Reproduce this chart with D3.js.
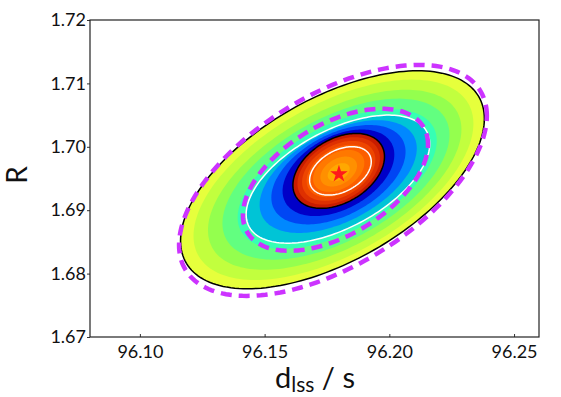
<!DOCTYPE html>
<html>
<head>
<meta charset="utf-8">
<script src="https://cdn.jsdelivr.net/npm/d3@7"></script>
<style>
  body { margin: 0; background: #fff; }
  svg { display: block; font-family: Lato, "Open Sans", sans-serif; }
</style>
</head>
<body>
<div class="chart"></div>
<script>
// chart data
// ==========================================================================
var xTicks = [96.10, 96.15, 96.20, 96.25];
var yTicks = [1.67, 1.68, 1.69, 1.70, 1.71, 1.72];

// filled contour bands, outer -> inner
// each band is an ellipse: centre, half width, half height, correlation
var bandCx  = [96.1772, 96.1776, 96.1781, 96.1786, 96.1791, 96.1794, 96.1795, 96.1796, 96.1796, 96.1797, 96.1797, 96.1797, 96.1797, 96.1797, 96.1797, 96.1797];
var bandCy  = [1.6948, 1.6948, 1.6948, 1.6949, 1.6949, 1.6949, 1.6953, 1.6956, 1.6959, 1.6962, 1.6962, 1.6962, 1.6962, 1.6962, 1.6961, 1.6960];
var bandDx  = [0.0609, 0.0561, 0.0508, 0.0455, 0.0399, 0.0368, 0.0315, 0.0269, 0.0224, 0.01836, 0.01652, 0.01469, 0.01285, 0.01028, 0.00734, 0.00441];
var bandDy  = [0.01719, 0.0158, 0.0142, 0.0127, 0.0110, 0.0101, 0.00889, 0.00784, 0.00683, 0.00591, 0.00532, 0.00473, 0.00414, 0.00331, 0.00236, 0.00142];
var bandRho = [0.56, 0.56, 0.56, 0.55, 0.55, 0.55, 0.50, 0.46, 0.42, 0.38, 0.38, 0.38, 0.38, 0.38, 0.38, 0.38];
var bandColors = ["#e6ff3c", "#c2ff3e", "#94ff4e", "#62ff80", "#36ffb4", "#00c4d6", "#0088ff", "#0046f4", "#0000c8",
                  "#c81c00", "#de3000", "#ee4600", "#fc5e00", "#ff7800", "#ff9000", "#ffa800"];

// contour lines: outer black, white, inner black, inner white
var lineCx  = [96.1772, 96.1794, 96.1797, 96.1804];
var lineCy  = [1.6948, 1.6949, 1.6962, 1.6962];
var lineDx  = [0.0609, 0.0368, 0.01836, 0.01235];
var lineDy  = [0.01719, 0.0101, 0.00591, 0.00382];
var lineRho = [0.56, 0.55, 0.38, 0.38];
var lineColors = ["#000", "#fff", "#000", "#fff"];

// magenta dashed ellipses
var dashCx  = [96.1774, 96.1784];
var dashCy  = [1.6947, 1.6948];
var dashDx  = [0.0617, 0.0371];
var dashDy  = [0.01822, 0.0112];
var dashRho = [0.56, 0.50];

// best fit point
var bestX = 96.1798;
var bestY = 1.6957;

// set up chart configurations
// ==========================================================================
var svgWidth = 561;
var svgHeight = 397;

var margin = { top: 20, right: 22, bottom: 60, left: 90 };
var width = 449;
var height = 317;

var svg = d3.select(".chart")
  .append("svg")
  .attr("width", svgWidth)
  .attr("height", svgHeight);

var chartGroup = svg.append("g")
  .attr("transform", `translate(${margin.left}, ${margin.top})`);

var xScale = d3.scaleLinear().domain([96.08, 96.26]).range([0, width]);
var yScale = d3.scaleLinear().domain([1.67, 1.72]).range([height, 0]);

// ellipse outline in data units, run through the scales
function ellipsePath(cx, cy, dx, dy, rho) {
  var pts = d3.range(0, 180).map(function(i) {
    var t = i / 180 * 2 * Math.PI;
    var x = cx + dx * Math.cos(t);
    var y = cy + dy * (rho * Math.cos(t) + Math.sqrt(1 - rho * rho) * Math.sin(t));
    return [xScale(x), yScale(y)];
  });
  return d3.line().curve(d3.curveLinearClosed)(pts);
}

// filled bands
chartGroup.selectAll(".band")
  .data(bandColors)
  .enter()
  .append("path")
  .attr("class", "band")
  .attr("d", (c, i) => ellipsePath(bandCx[i], bandCy[i], bandDx[i], bandDy[i], bandRho[i]))
  .attr("fill", c => c)
  .attr("stroke", "none");

// contour lines
chartGroup.selectAll(".cline")
  .data(lineColors)
  .enter()
  .append("path")
  .attr("class", "cline")
  .attr("d", (c, i) => ellipsePath(lineCx[i], lineCy[i], lineDx[i], lineDy[i], lineRho[i]))
  .attr("fill", "none")
  .attr("stroke", c => c)
  .attr("stroke-width", 1.5);

// dashed ellipses
chartGroup.selectAll(".dash")
  .data(dashCx)
  .enter()
  .append("path")
  .attr("class", "dash")
  .attr("d", (c, i) => ellipsePath(dashCx[i], dashCy[i], dashDx[i], dashDy[i], dashRho[i]))
  .attr("fill", "none")
  .attr("stroke", "#cc33ff")
  .attr("stroke-width", 4.5)
  .attr("stroke-dasharray", "11,7");

// star
chartGroup.append("path")
  .attr("d", d3.symbol().type(d3.symbolStar).size(95))
  .attr("transform", `translate(${xScale(bestX)}, ${yScale(bestY)})`)
  .attr("fill", "#ff1a1a");

// axes
var bottomAxis = d3.axisBottom(xScale).tickValues(xTicks).tickFormat(d3.format(".2f")).tickSizeInner(-3).tickSizeOuter(0).tickPadding(8);
var leftAxis = d3.axisLeft(yScale).tickValues(yTicks).tickFormat(d3.format(".2f")).tickSizeInner(3).tickSizeOuter(0).tickPadding(1);

var xAxis = chartGroup.append("g")
  .attr("transform", `translate(0, ${height})`)
  .call(bottomAxis);
var yAxis = chartGroup.append("g")
  .call(leftAxis);

[xAxis, yAxis].forEach(function(ax) {
  ax.select(".domain").remove();
  ax.selectAll("text").attr("font-size", 18).attr("fill", "#111").attr("font-family", "Lato, sans-serif");
  ax.selectAll("line").attr("stroke", "#333");
});

// frame
chartGroup.append("rect")
  .attr("width", width)
  .attr("height", height)
  .attr("fill", "none")
  .attr("stroke", "#222")
  .attr("stroke-width", 1.2);

// axis titles
svg.append("text")
  .attr("transform", "translate(27, 175) rotate(-90)")
  .attr("text-anchor", "middle")
  .attr("font-size", 28)
  .attr("fill", "#111")
  .text("R");

var xTitle = svg.append("text")
  .attr("x", 315)
  .attr("y", 388)
  .attr("text-anchor", "middle")
  .attr("font-size", 29)
  .attr("fill", "#111");
xTitle.append("tspan").text("d");
xTitle.append("tspan").attr("font-size", 21).attr("dy", 4).text("lss");
xTitle.append("tspan").attr("dy", -4).text(" / s");
</script>
</body>
</html>
